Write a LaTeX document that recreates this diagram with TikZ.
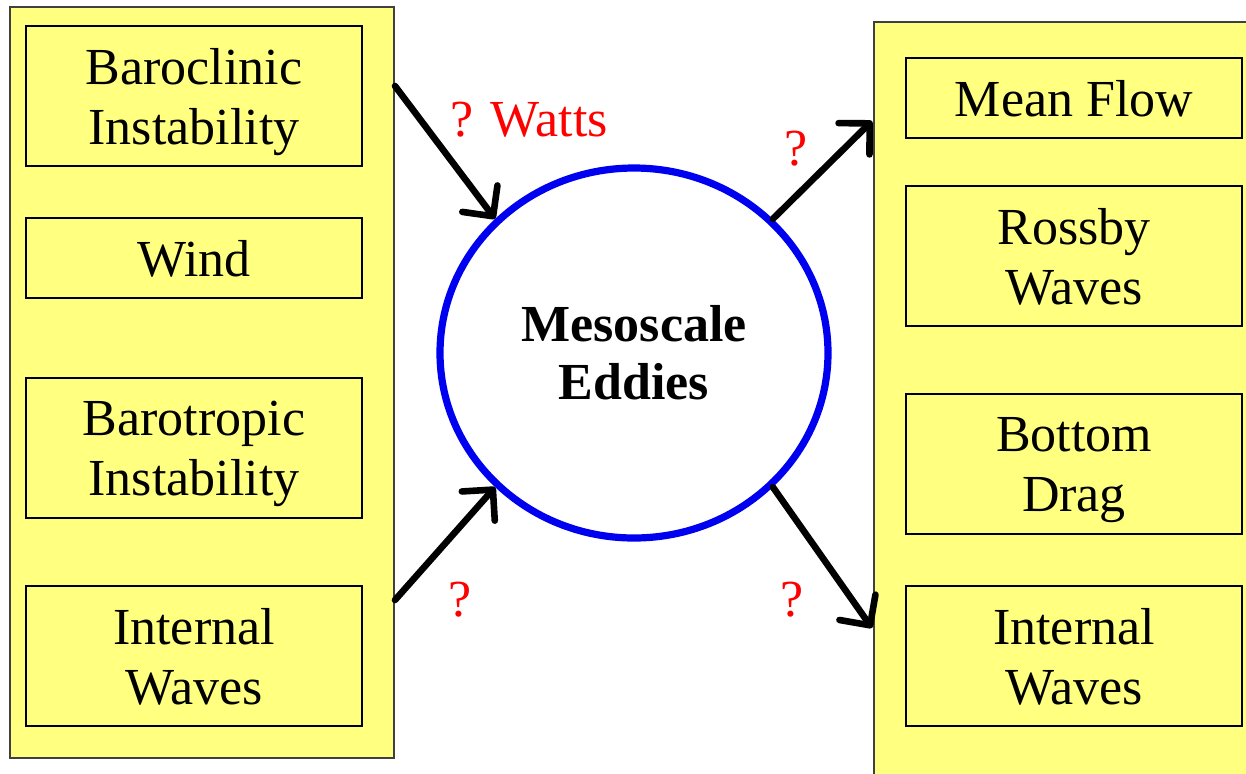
\documentclass[tikz,border=0pt]{standalone}
\usepackage{fontspec}
\setmainfont{Liberation Serif}
\usetikzlibrary{arrows.meta, positioning, shapes.geometric}
\definecolor{paleyellow}{RGB}{255,255,128}
\definecolor{ringblue}{RGB}{0,0,240}

\begin{document}
\begin{tikzpicture}[x=0.5pt, y=-0.5pt, font=\fontsize{26}{30}\selectfont, column/.style={draw=black!75, line width=0.6pt, fill=paleyellow, inner sep=0pt}, cell/.style={draw, line width=0.8pt, fill=paleyellow, minimum width=168pt, align=center, inner sep=0pt, text depth=0pt}, tall/.style={cell, minimum height=70pt}, short/.style={cell, minimum height=40pt}, flow/.style={line width=3.3pt, line cap=round, -{Straight Barb[length=11pt, width=22pt, line cap=round, line join=round]}}, guess/.style={text=red}]
\useasboundingbox (0,0) rectangle (1246,773);
\clip (0,0) rectangle (1246,773);
% sources on the left
\node[column, minimum width=192pt, minimum height=375.5pt] (sources) at (202,382.5) {};
\node[tall] (baroclinic) at (194,96) {Baroclinic\\Instability};
\node[short] (wind) at (194,258) {Wind};
\node[tall] (barotropic) at (194,448) {Barotropic\\Instability};
\node[tall] (iwleft) at (194,656) {Internal\\Waves};
% sinks on the right
\node[column, minimum width=200pt, minimum height=390pt] (sinks) at (1074,412) {};
\node[short] (meanflow) at (1074,98) {Mean Flow};
\node[tall] (rossby) at (1074,256) {Rossby\\Waves};
\node[tall] (drag) at (1074,464) {Bottom\\Drag};
\node[tall] (iwright) at (1074,656) {Internal\\Waves};
% eddy reservoir
\node[ellipse, draw=ringblue, line width=3.6pt, minimum width=388pt*0.5, minimum height=370pt*0.5, inner sep=0pt, align=center, font=\fontsize{26}{29}\selectfont\bfseries] (eddies) at (634,353) {Mesoscale\\Eddies};
\coordinate (inA) at (395,86); \coordinate (inB) at (395,600);
\coordinate (outA) at (872,121); \coordinate (outB) at (872,628);
\draw[flow] (inA) -- (eddies.136); \draw[flow] (inB) -- (eddies.224);
\draw[flow] (eddies.44) -- (outA); \draw[flow] (eddies.-44) -- (outB);
\node[guess] (wattslbl) at (529,120) {? Watts};
\node[guess] (qin) at (460,600) {?};
\node[guess] (qoutA) at (796,149) {?};
\node[guess] (qoutB) at (792,600) {?};
\end{tikzpicture}
\end{document}
